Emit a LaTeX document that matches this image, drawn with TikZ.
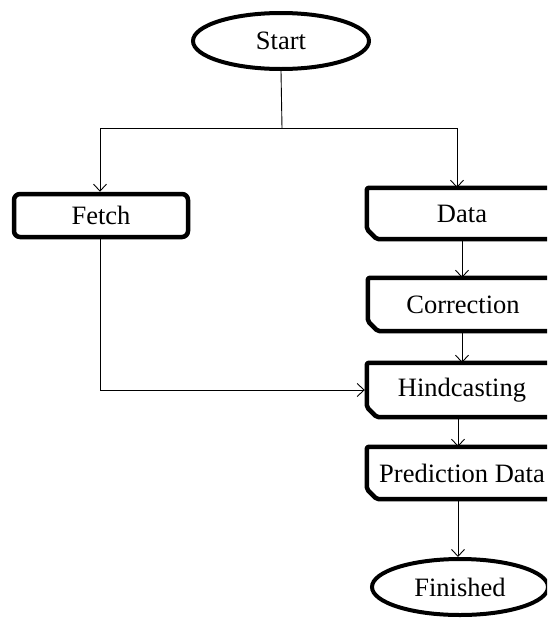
\documentclass[tikz,border=0pt]{standalone}
\usepackage{fontspec}
\setmainfont{Liberation Serif}
\usetikzlibrary{shapes.geometric,arrows.meta}
\begin{document}
\begin{tikzpicture}[x=1pt,y=-1pt,
  every node/.style={font=\fontsize{26.5}{30}\selectfont, inner sep=0pt},
  term/.style={ellipse, draw, line width=4pt, minimum width=176pt, minimum height=56pt},
  fbox/.style={rectangle, draw, line width=4.5pt, rounded corners=6pt, minimum width=174pt, minimum height=43pt},
  rbox/.style={rectangle, minimum width=190pt},
  outline/.style={line width=4.5pt, line join=round, rounded corners=2pt},
  arr/.style={line width=0.9pt, -{Straight Barb[length=7pt,width=13pt,line width=0.9pt]}},
  ln/.style={line width=0.9pt}]
\useasboundingbox (0,0) rectangle (547,619);
\begin{scope}
\clip (0,0) rectangle (547,619);
\node[term] (start) at (281,41) {Start};
\node[fbox] (fetch) at (101,215.5) {Fetch};
\node[rbox, minimum height=51pt] (data) at (462,213.5) {Data};
\node[rbox, minimum height=53pt] (corr) at (463,304.5) {Correction};
\node[rbox, minimum height=54pt] (hind) at (462,390) {Hindcasting};
\node[rbox, minimum height=52pt] (pred) at (462,473) {Prediction Data};
\node[term] (fin) at (460,587) {Finished};
\foreach \n in {data,corr,hind,pred}{
  \draw[outline] ([xshift=20pt]\n.north east) -- (\n.north west) -- ([yshift=10pt]\n.south west)
    -- ([xshift=10pt]\n.south west) -- ([xshift=20pt]\n.south east);
}
\coordinate (j) at (282,128);
\coordinate (jl) at (100,128);
\coordinate (jr) at (457,128);
\draw[ln] (start.south) -- (j);
\draw[ln] (jl) -- (jr);
\draw[arr] (jl) -- (jl |- fetch.north);
\draw[arr] (jr) -- (jr |- data.north);
\draw[arr] (data.south) -- (corr.north -| data.south);
\draw[arr] ([xshift=-1pt]corr.south) -- ([xshift=-1pt]corr.south |- hind.north);
\draw[arr] ([xshift=-4pt]hind.south) -- ([xshift=-4pt]hind.south |- pred.north);
\draw[arr] ([xshift=-4pt]pred.south) -- ([xshift=-4pt]pred.south |- fin.north);
\draw[arr] ([xshift=-1pt]fetch.south) |- ([xshift=-2pt]hind.west);
\end{scope}
\end{tikzpicture}
\end{document}
